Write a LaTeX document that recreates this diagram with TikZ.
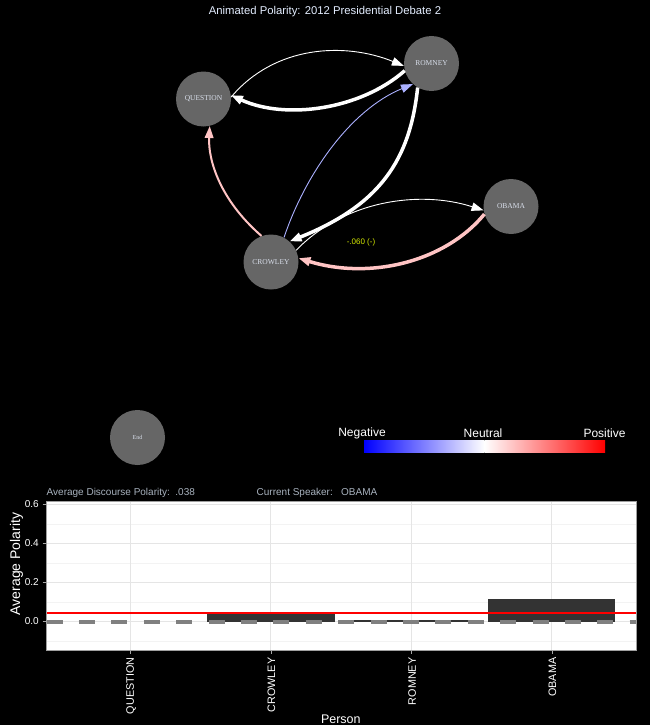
\documentclass[tikz,border=0pt]{standalone}
\usepackage{fontspec}
\setmainfont{Liberation Sans}
\newfontfamily\nodefont{Liberation Serif}
\usetikzlibrary{arrows.meta}
\definecolor{nodegray}{HTML}{666666}
\definecolor{nodetext}{HTML}{D8DEEA}
\definecolor{titletext}{HTML}{E4EEFF}
\definecolor{infotext}{HTML}{A8B2BE}
\definecolor{pinkedge}{HTML}{FFC4C4}
\definecolor{lavedge}{HTML}{AAB0FF}
\definecolor{labelyel}{HTML}{D4E800}
\definecolor{bardark}{HTML}{333333}
\definecolor{gridmaj}{HTML}{E5E5E5}
\definecolor{gridmin}{HTML}{F3F3F3}
\definecolor{zerodash}{HTML}{808080}
\begin{document}
\begin{tikzpicture}[x=1pt,y=-1pt,
  person/.style={circle, fill=nodegray, minimum size=55pt, inner sep=0pt,
    text=nodetext, font=\nodefont\fontsize{7.5}{8}\selectfont},
  edgetip/.style={-{Triangle[length=12pt,width=8.5pt]}},
  thinedge/.style={edgetip, line width=0.9pt},
  midedge/.style={edgetip, line width=2pt},
  thickedge/.style={edgetip, line width=3.5pt},
  axislabel/.style={text=white, font=\fontsize{10}{11}\selectfont, inner sep=0pt},
  infolabel/.style={text=infotext, font=\fontsize{10}{11}\selectfont, inner sep=0pt, anchor=west},
  legendlabel/.style={text=white, font=\fontsize{12}{13}\selectfont, inner sep=0pt},
  tickmark/.style={draw=gray!70, line width=0.8pt}
]
\fill[black] (0,0) rectangle (650,725);
\useasboundingbox (0,0) rectangle (650,725);

% title
\node[text=titletext, font=\fontsize{11.3}{13}\selectfont] (title) at (325,12) {Animated Polarity: 2012 Presidential Debate 2};

% nodes
\node[person] (q) at (203.5,99) {QUESTION};
\node[person] (r) at (431.5,63.5) {ROMNEY};
\node[person] (o) at (511,206.5) {OBAMA};
\node[person] (c) at (271,262) {CROWLEY};
\node[person, font=\nodefont\fontsize{6}{7}\selectfont] (e) at (137.5,437.5) {End};

% edges
\draw[thinedge, white] (q.4) .. controls (275,45) and (345,42) .. (r.185);
\draw[thickedge, white] (r.195) .. controls (360,110) and (285,120) .. (q.8);
\draw[thinedge, lavedge] (c.62) .. controls (305,175) and (350,110) .. (r.228);
\draw[thickedge, white] (r.240) .. controls (410,160) and (380,205) .. (c.48);
\draw[thinedge, white] (c.25) .. controls (345,200) and (420,190) .. (o.188);
\draw[thickedge, pinkedge] (o.196) .. controls (445,262) and (370,280) .. (c.8);
\draw[midedge, pinkedge] (c.110) .. controls (220,200) and (208,160) .. (q.283);

\node[text=labelyel, font=\fontsize{8}{9}\selectfont] (elabel) at (361,242) {-.060 (-)};

% legend
\shade[left color=blue, right color=white] (364,440) rectangle (484.5,452);
\shade[left color=white, right color=red] (484.5,440) rectangle (605,452);
\node[legendlabel] (neg) at (362,433) {Negative};
\node[legendlabel] (neu) at (483,433) {Neutral};
\node[legendlabel] (pos) at (604.5,433) {Positive};

% info line
\node[infolabel] (avg) at (46.5,493) {Average Discourse Polarity:\ \ .038};
\node[infolabel] (spk) at (256.5,493) {Current Speaker:\ \ \ OBAMA};

% panel
\fill[white] (46.5,501) rectangle (636.5,650);
\foreach \v in {-0.1,0.1,0.3,0.5}
  \draw[gridmin, line width=0.6pt] (46.5,{621.5-195*\v}) -- (636.5,{621.5-195*\v});
\foreach \v in {0,0.2,0.4,0.6}
  \draw[gridmaj, line width=1.1pt] (46.5,{621.5-195*\v}) -- (636.5,{621.5-195*\v});
\foreach \x in {130.7,270.9,411.6,551.9}
  \draw[gridmaj, line width=1.1pt] (\x,501) -- (\x,650);

% bars
\fill[bardark] (206.6,614.2) rectangle (334.6,621.5);
\fill[bardark] (348.5,620.3) rectangle (474.5,621.5);
\fill[bardark] (488.4,599) rectangle (614.5,621.5);

% reference lines
\draw[zerodash, line width=4pt, dash pattern=on 16pt off 16.4pt] (46.5,621.5) -- (636.5,621.5);
\draw[red, line width=2pt] (46.5,613) -- (636.5,613);

\draw[gray!75, line width=1pt] (46.5,501) rectangle (636.5,650);

% y axis
\foreach \v/\t in {0/0.0,0.2/0.2,0.4/0.4,0.6/0.6}{
  \draw[tickmark] (42.5,{621.5-195*\v}) -- (46.5,{621.5-195*\v});
  \node[axislabel, anchor=east] (y\t) at (39,{621.5-195*\v}) {\t};
}
\node[text=white, font=\fontsize{14}{15}\selectfont, rotate=90, inner sep=0pt] (ytitle) at (16.5,564) {Average Polarity};

% x axis
\foreach \x/\t in {130.7/QUESTION,270.9/CROWLEY,411.6/ROMNEY,551.9/OBAMA}{
  \draw[tickmark] (\x,650) -- (\x,654);
  \node[axislabel, font=\fontsize{10.8}{12}\selectfont, rotate=90, anchor=east] (x\t) at (\x+0.5,657.5) {\t};
}
\node[text=white, font=\fontsize{12.5}{14}\selectfont, inner sep=0pt] (xtitle) at (340.8,719) {Person};
\end{tikzpicture}
\end{document}
